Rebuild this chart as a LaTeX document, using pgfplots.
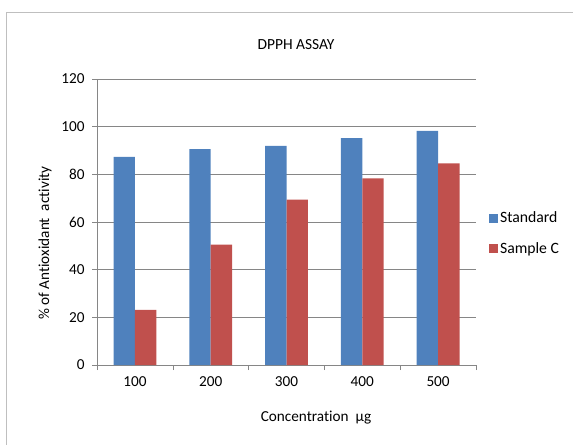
\documentclass[border=0pt]{standalone}
\usepackage{pgfplots}
\pgfplotsset{compat=1.18}
\usepackage{fontspec}
\setmainfont[Ligatures=NoCommon]{Carlito}
\definecolor{stdblue}{HTML}{4F81BD}
\definecolor{samred}{HTML}{C0504D}
\definecolor{axgray}{HTML}{868686}
\definecolor{framegray}{HTML}{BFBFBF}

\pgfplotstableread{
x  standard  sample
0  87.3      23.1
1  90.6      50.5
2  91.9      69.4
3  95.2      78.3
4  98.2      84.6
}\dpph

\begin{document}
\begin{tikzpicture}
\path[use as bounding box] (0,0) rectangle (573bp,-445bp);
\draw[framegray,line width=1bp] (6bp,-460bp) -- (6bp,-12bp) -- (590bp,-12bp);
\begin{axis}[
    at={(97bp,-365bp)}, anchor=south west,
    width=379bp, height=286bp, scale only axis,
    font=\fontsize{15.3}{17}\selectfont,
    /pgf/number format/assume math mode=true,
    ybar=0pt, bar width=21.4bp,
    xmin=-0.5, xmax=4.5,
    ymin=0, ymax=120, ytick={0,20,...,120},
    xtick={0,...,4},
    xticklabels={100,200,300,400,500},
    minor xtick={-0.5,0.5,...,4.5},
    major x tick style={draw=none},
    tick align=outside,
    major tick length=5bp, minor tick length=5bp,
    every tick/.style={axgray},
    minor tick style={axgray},
    axis x line*=bottom, axis y line*=left,
    axis line style={axgray, line width=0.8bp},
    ymajorgrids, grid style={axgray, line width=0.8bp},
    yticklabel style={xshift=-4bp},
    xticklabel style={yshift=-3bp},
    legend style={draw=none, at={(1.026,0.46)}, anchor=west,
      font=\fontsize{15.8}{17}\selectfont, row sep=14bp,
      /tikz/every even column/.style={column sep=2bp}},
    legend cell align=left,
    legend image code/.code={\fill[#1] (0bp,-4.5bp) rectangle (9bp,4.5bp);},
  ]
  \addplot[fill=stdblue, draw=none] table[x=x, y=standard] {\dpph};
  \addplot[fill=samred, draw=none] table[x=x, y=sample] {\dpph};
  \legend{Standard, Sample C}
\end{axis}
\node[font=\fontsize{15.5}{18}\selectfont] at (296bp,-45bp) {DPPH ASSAY};
\node[font=\fontsize{15.3}{17}\selectfont, rotate=90] at (45bp,-243bp) {\% of Antioxidant\ \ activity};
\node[font=\fontsize{15.3}{17}\selectfont] at (316bp,-418bp) {Concentration\ \ µg};
\end{tikzpicture}
\end{document}
